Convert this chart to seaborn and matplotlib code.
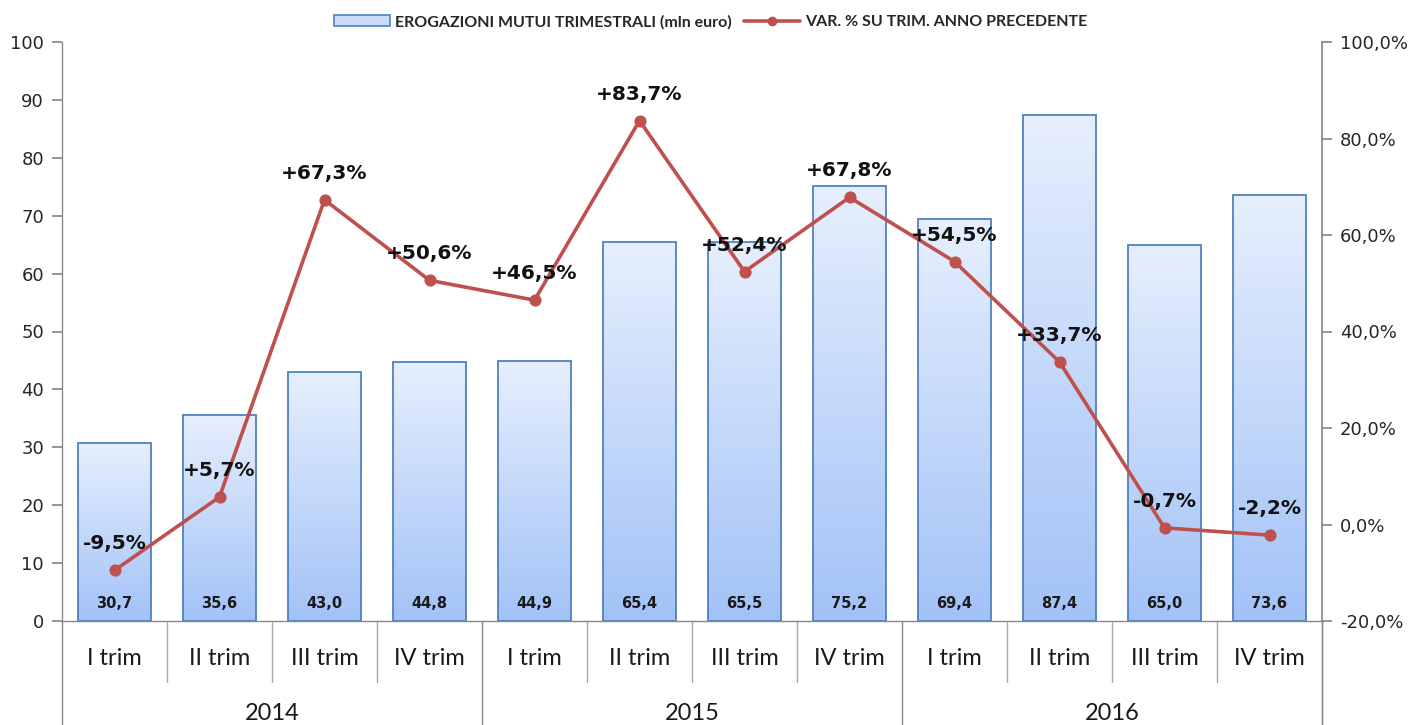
import numpy as np
import pandas as pd
import matplotlib
matplotlib.use("Agg")
import matplotlib.pyplot as plt
import seaborn as sns
from matplotlib.colors import LinearSegmentedColormap
from matplotlib.patches import Patch
from matplotlib.lines import Line2D

# data
quarters = ["I trim", "II trim", "III trim", "IV trim"] * 3
years = ["2014", "2015", "2016"]
erogazioni = [30.7, 35.6, 43.0, 44.8, 44.9, 65.4, 65.5, 75.2, 69.4, 87.4, 65.0, 73.6]
var_pct = [-9.5, 5.7, 67.3, 50.6, 46.5, 83.7, 52.4, 67.8, 54.5, 33.7, -0.7, -2.2]

df = pd.DataFrame({"pos": range(len(erogazioni)), "quarter": quarters,
                   "value": erogazioni, "var": var_pct})

sns.set_theme(style="white")
plt.rcParams["font.family"] = ["Lato", "DejaVu Sans"]

fig = plt.figure(figsize=(14.21, 7.25), dpi=100)
ax = fig.add_axes([62 / 1421, 1 - 621 / 725, (1322 - 62) / 1421, (621 - 42) / 725])

bar_edge = "#4F81BD"
line_col = "#C0504D"
sns.barplot(data=df, x="pos", y="value", ax=ax, width=0.69, color="white",
            edgecolor=bar_edge, linewidth=1.3, zorder=2)

# vertical gradient inside every bar
grad = LinearSegmentedColormap.from_list("g", ["#A2C2F7", "#E6EFFD"])
gimg = np.linspace(0, 1, 256).reshape(-1, 1)
for p in list(ax.patches):
    p.set_facecolor("none")
    x0, y0, w, h = p.get_x(), p.get_y(), p.get_width(), p.get_height()
    im = ax.imshow(gimg, cmap=grad, origin="lower", aspect="auto",
                   extent=[x0, x0 + w, y0, y0 + h], zorder=1.5)
    im.set_clip_path(p)
    ax.text(x0 + w / 2, 3.0, f"{h:.1f}".replace(".", ","), ha="center", va="center",
            fontsize=10.5, fontweight="bold", color="#1a1a1a", family="DejaVu Sans", zorder=5)

ax.set_xlim(-0.5, len(erogazioni) - 0.5)
ax.set_ylim(0, 100)
ax.set_aspect("auto")
ax.set_yticks(range(0, 101, 10))
ax.tick_params(axis="y", labelsize=13, length=7, color="#888888", direction="out", left=True, pad=6)
for lab in ax.get_yticklabels():
    lab.set_family("DejaVu Sans")
ax.set_xticks([])
ax.set_xlabel("")
ax.set_ylabel("")
for s in ["top", "right"]:
    ax.spines[s].set_visible(False)
for s in ["left", "bottom"]:
    ax.spines[s].set_color("#888888")
    ax.spines[s].set_linewidth(1)

# category labels and separators
for i, q in enumerate(quarters):
    ax.text(i, -6.5, q, ha="center", va="center", fontsize=17, color="#1a1a1a",
            clip_on=False)
for i in range(len(quarters) + 1):
    bottom = -18.4 if i % 4 == 0 else -10.5
    ax.plot([i - 0.5, i - 0.5], [0, bottom], color="#aaaaaa" if i % 4 else "#888888",
            lw=1, clip_on=False, zorder=0)
for k, yr in enumerate(years):
    ax.text(4 * k + 1.5, -16, yr, ha="center", va="center", fontsize=17,
            color="#1a1a1a", clip_on=False)

# secondary axis with the percentage change
ax2 = ax.twinx()
sns.lineplot(data=df, x="pos", y="var", ax=ax2, color=line_col, lw=2.6,
             marker="o", markersize=8, markeredgecolor=line_col, zorder=4)
ax2.set_ylim(-20, 100)
ax2.set_yticks(range(-20, 101, 20))
ax2.set_yticklabels([f"{v},0%" for v in range(-20, 101, 20)])
ax2.tick_params(axis="y", labelsize=13, length=7, color="#888888", direction="out", right=True, pad=6)
for lab in ax2.get_yticklabels():
    lab.set_family("DejaVu Sans")
ax2.set_xlabel("")
ax2.set_ylabel("")
for s in ["top", "left", "bottom"]:
    ax2.spines[s].set_visible(False)
ax2.spines["right"].set_color("#888888")
ax2.spines["right"].set_bounds(-20, 100)
ax2.plot([len(quarters) - 0.5] * 2, [-20, -42], color="#888888", lw=1, clip_on=False)
for i, v in enumerate(var_pct):
    lbl = (f"{v:+.1f}%").replace(".", ",")
    ax2.annotate(lbl, (i, v), xytext=(0, 19), textcoords="offset points", ha="center",
                 va="center", fontsize=14.5, fontweight="bold", color="#111111",
                 family="DejaVu Sans", zorder=6)

handles = [Patch(facecolor="#C9DCFB", edgecolor=bar_edge, lw=1.2),
           Line2D([0], [0], color=line_col, lw=2.6, marker="o", markersize=6)]
fig.legend(handles, ["EROGAZIONI MUTUI TRIMESTRALI (mln euro)", "VAR. % SU TRIM. ANNO PRECEDENTE"],
           loc="center", bbox_to_anchor=(0.5, 1 - 22 / 725), ncol=2, frameon=False,
           prop={"size": 11.5, "weight": "bold"}, columnspacing=0.8, handletextpad=0.3,
           handlelength=3.5)

fig.savefig("out.png", dpi=100)
